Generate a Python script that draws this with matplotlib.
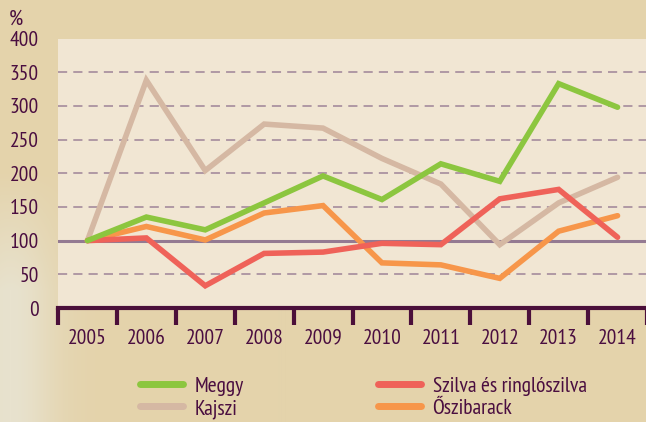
import matplotlib
matplotlib.use("Agg")
import matplotlib.pyplot as plt
import numpy as np
from matplotlib.lines import Line2D

years = ["2005", "2006", "2007", "2008", "2009", "2010", "2011", "2012", "2013", "2014"]
meggy = [100, 135, 116, 156, 196, 161, 214, 188, 333, 298]
kajszi = [100, 338, 204, 273, 267, 222, 184, 94, 156, 194]
szilva = [100, 104, 33, 81, 83, 96, 94, 162, 176, 105]
oszibarack = [100, 121, 101, 141, 152, 67, 64, 44, 114, 137]
yticks = [0, 50, 100, 150, 200, 250, 300, 350, 400]

plt.rcParams['font.family'] = ['PT Sans Narrow', 'DejaVu Sans']

txt = "#4A0E40"
bg = "#E4D3AB"
panel = "#F1E6D3"

fig = plt.figure(figsize=(6.46, 4.22), dpi=100, facecolor=bg)

# soft background blur on the left edge
bax = fig.add_axes([0, 0, 1, 1], zorder=-5)
H, W = 422, 646
yy, xx = np.mgrid[0:H, 0:W]
base = np.array([0xE4, 0xD3, 0xAB]) / 255.0
light = np.array([0xE8, 0xE2, 0xCE]) / 255.0
w = np.exp(-((xx - 10) / 45.0) ** 2) * np.clip((yy - 170) / 120.0, 0, 1)
img = base[None, None, :] * (1 - w[..., None]) + light[None, None, :] * w[..., None]
bax.imshow(img, aspect="auto", extent=[0, 1, 0, 1], origin="upper")
bax.axis("off")

ax = fig.add_axes([58/646, 1-308/422, 589/646, (308-38.5)/422])
ax.set_facecolor(panel)

x = list(range(len(years)))
for yv in [50, 150, 200, 250, 300, 350]:
    ax.axhline(yv, color="#9E8497", lw=1.1, ls=(0, (6, 4)), zorder=1)
ax.axhline(100, color="#947A92", lw=2.2, zorder=2)

kw = dict(lw=4, solid_capstyle="round", solid_joinstyle="miter")
ax.plot(x, kajszi, color="#D5B8A3", zorder=3, **kw)
ax.plot(x, oszibarack, color="#F7964A", zorder=4, **kw)
ax.plot(x, szilva, color="#EF6259", zorder=5, **kw)
ax.plot(x, meggy, color="#8CC63F", zorder=6, **kw)

ax.set_xlim(-0.5, 9.5)
ax.set_ylim(0, 400)
ax.set_yticks(yticks)
ax.set_yticklabels([str(v) for v in yticks], fontsize=15.5, color=txt)
ax.tick_params(axis="y", length=0, pad=14)
ax.set_xticks([i + 0.5 for i in range(-1, 10)])
ax.set_xticklabels([])
ax.tick_params(axis="x", which="major", length=12, width=3, color="#4B0F3A", direction="out")
ax.set_xticks(x, minor=True)
ax.set_xticklabels(years, minor=True, fontsize=15.5, color=txt)
ax.tick_params(axis="x", which="minor", length=0, pad=15)

for s in ["top", "right", "left"]:
    ax.spines[s].set_visible(False)
ax.spines["bottom"].set_color("#4B0F3A")
ax.spines["bottom"].set_linewidth(3)

fig.text(9/646, 1-19/422, "%", fontsize=16, color=txt, va="center", ha="left")

common = dict(loc="upper left", frameon=False, fontsize=15.5, labelcolor=txt, handlelength=2.0,
              handletextpad=0.55, labelspacing=0.15, borderaxespad=0)
fig.legend([Line2D([], [], color="#8CC63F", lw=5, solid_capstyle="round"),
            Line2D([], [], color="#D5B8A3", lw=5, solid_capstyle="round")],
           ["Meggy", "Kajszi"], bbox_to_anchor=(131/646, 1-368/422), **common)
fig.legend([Line2D([], [], color="#EF6259", lw=5, solid_capstyle="round"),
            Line2D([], [], color="#F7964A", lw=5, solid_capstyle="round")],
           ["Szilva és ringlószilva", "Őszibarack"], bbox_to_anchor=(369/646, 1-368/422), **common)

fig.savefig("out.png", dpi=100, facecolor=bg)
